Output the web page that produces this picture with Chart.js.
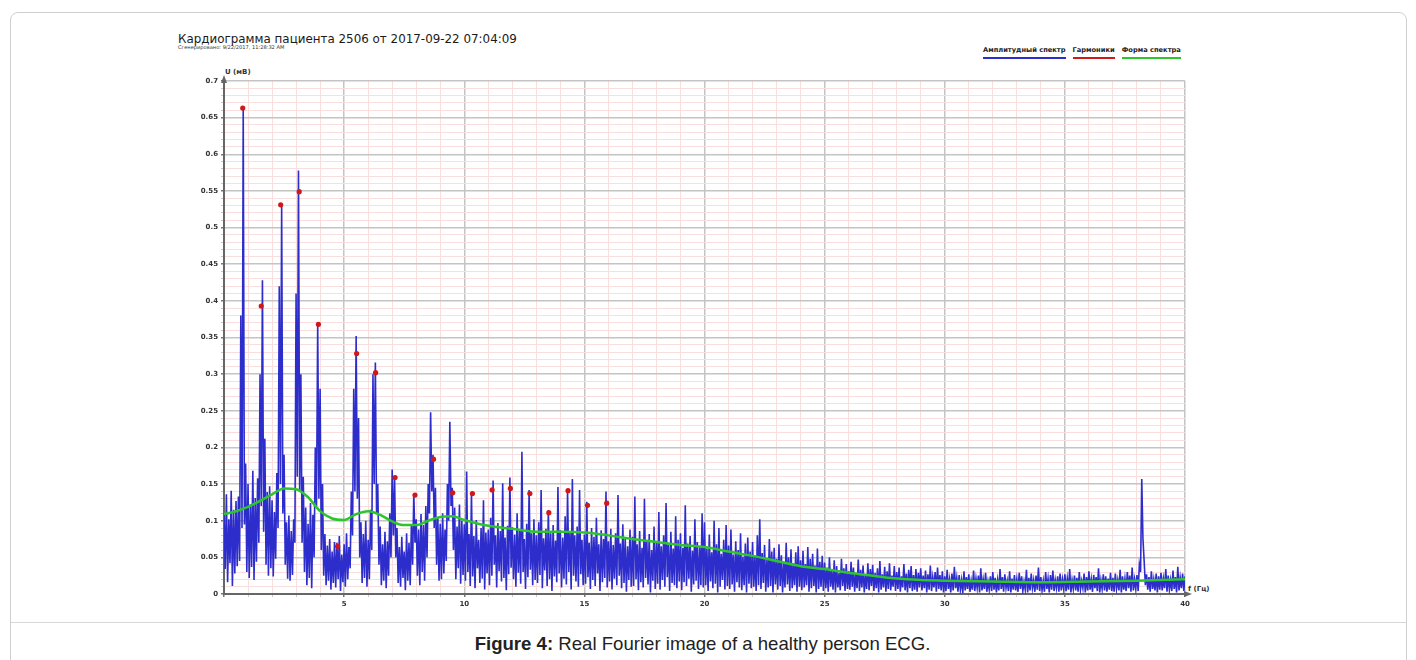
<!DOCTYPE html>
<html>
<head>
<meta charset="utf-8">
<title>Кардиограмма пациента 2506</title>
<script src="https://cdn.jsdelivr.net/npm/chart.js@4.4.1/dist/chart.umd.min.js"></script>
<style>
    html, body { margin: 0; padding: 0; background: #fff; }
    body { width: 1416px; height: 660px; position: relative; overflow: hidden; font-family: 'DejaVu Sans', sans-serif; }
    .frame { position: absolute; left: 10px; top: 12px; width: 1395px; height: 700px; border: 1px solid #cfcfcf; border-radius: 8px; }
    .sep { position: absolute; left: 11px; width: 1395px; top: 622px; border-top: 1px solid #d8d8d8; }
    #chart { position: absolute; left: 0; top: 0; }
    .title { position: absolute; left: 178px; top: 32px; font-size: 11.9px; color: #1a1a1a; white-space: nowrap; }
    .subtitle { position: absolute; left: 178px; top: 44px; font-size: 5.1px; color: #333; white-space: nowrap; }
    .axis-name { position: absolute; font-size: 7px; font-weight: bold; color: #333; white-space: nowrap; line-height: 8px; }
    .legend { position: absolute; top: 46px; left: 983px; display: flex; gap: 7px; }
    .legend-item { font-size: 6.7px; font-weight: bold; color: #222; line-height: 8px; padding-bottom: 3px; border-bottom: 2px solid; white-space: nowrap; }
    .caption { position: absolute; left: 0; width: 1405px; top: 633px; text-align: center; font-family: 'Liberation Sans', Arial, sans-serif; font-size: 18.6px; color: #222; }
</style>
</head>
<body>
<div class="frame"></div>
<div class="sep"></div>
<div class="title">Кардиограмма пациента 2506 от 2017-09-22 07:04:09</div>
<div class="subtitle">Сгенерировано: 9/22/2017, 11:28:32 AM</div>
<div class="legend" id="legend"></div>
<div class="axis-name" style="left:225px; top:68px;">U (мВ)</div>
<div class="axis-name" style="left:1188px; top:585px;">f (Гц)</div>
<canvas id="chart" width="1416" height="620"></canvas>
<div class="caption"><b>Figure 4:</b> Real Fourier image of a healthy person ECG.</div>

<script>
// amplitude spectrum, mV: peaks at f = 0.0, 0.1 ... 40.0 Hz
const specStep = 0.1;
const specHigh = [
    0.108, 0.136, 0.102, 0.141, 0.115, 0.127, 0.133, 0.380, 0.663, 0.178,
    0.150, 0.122, 0.168, 0.131, 0.158, 0.300, 0.428, 0.212, 0.139, 0.147,
    0.128, 0.112, 0.165, 0.420, 0.531, 0.190, 0.098, 0.107, 0.086, 0.102,
    0.410, 0.578, 0.300, 0.160, 0.118, 0.096, 0.124, 0.108, 0.200, 0.370,
    0.280, 0.150, 0.082, 0.066, 0.075, 0.058, 0.071, 0.070, 0.079, 0.054,
    0.068, 0.083, 0.064, 0.140, 0.280, 0.352, 0.240, 0.098, 0.082, 0.100,
    0.074, 0.115, 0.300, 0.316, 0.150, 0.092, 0.068, 0.085, 0.072, 0.110,
    0.170, 0.160, 0.090, 0.064, 0.078, 0.058, 0.083, 0.070, 0.095, 0.137,
    0.102, 0.088, 0.109, 0.094, 0.120, 0.150, 0.248, 0.190, 0.145, 0.104,
    0.096, 0.110, 0.088, 0.150, 0.235, 0.145, 0.118, 0.092, 0.122, 0.100,
    0.095, 0.167, 0.082, 0.138, 0.079, 0.101, 0.074, 0.090, 0.128, 0.084,
    0.088, 0.104, 0.155, 0.080, 0.097, 0.086, 0.151, 0.077, 0.093, 0.159,
    0.091, 0.081, 0.110, 0.086, 0.194, 0.075, 0.096, 0.142, 0.083, 0.102,
    0.080, 0.098, 0.142, 0.076, 0.089, 0.114, 0.083, 0.094, 0.073, 0.146,
    0.087, 0.077, 0.106, 0.141, 0.084, 0.157, 0.080, 0.092, 0.142, 0.074,
    0.081, 0.126, 0.070, 0.090, 0.078, 0.104, 0.068, 0.087, 0.075, 0.140,
    0.072, 0.089, 0.067, 0.083, 0.135, 0.069, 0.095, 0.076, 0.065, 0.088,
    0.078, 0.133, 0.068, 0.086, 0.063, 0.130, 0.072, 0.082, 0.060, 0.092,
    0.070, 0.112, 0.065, 0.080, 0.124, 0.067, 0.085, 0.062, 0.106, 0.074,
    0.083, 0.063, 0.121, 0.069, 0.079, 0.059, 0.102, 0.071, 0.064, 0.110,
    0.098, 0.062, 0.081, 0.057, 0.100, 0.068, 0.090, 0.055, 0.074, 0.094,
    0.066, 0.088, 0.054, 0.072, 0.060, 0.083, 0.051, 0.069, 0.077, 0.058,
    0.071, 0.052, 0.080, 0.102, 0.056, 0.067, 0.049, 0.075, 0.058, 0.063,
    0.048, 0.068, 0.053, 0.044, 0.070, 0.050, 0.061, 0.042, 0.057, 0.065,
    0.046, 0.059, 0.041, 0.064, 0.048, 0.055, 0.039, 0.062, 0.044, 0.052,
    0.043, 0.036, 0.050, 0.032, 0.046, 0.038, 0.029, 0.048, 0.035, 0.041,
    0.031, 0.044, 0.036, 0.028, 0.047, 0.033, 0.039, 0.026, 0.042, 0.034,
    0.040, 0.029, 0.035, 0.045, 0.027, 0.037, 0.031, 0.042, 0.025, 0.038,
    0.030, 0.036, 0.024, 0.041, 0.028, 0.033, 0.038, 0.026, 0.034, 0.029,
    0.035, 0.025, 0.032, 0.027, 0.039, 0.023, 0.030, 0.036, 0.026, 0.031,
    0.024, 0.033, 0.020, 0.028, 0.037, 0.022, 0.026, 0.019, 0.031, 0.023,
    0.027, 0.018, 0.032, 0.021, 0.025, 0.035, 0.020, 0.029, 0.017, 0.024,
    0.030, 0.022, 0.019, 0.034, 0.023, 0.027, 0.018, 0.031, 0.021, 0.026,
    0.020, 0.029, 0.024, 0.017, 0.033, 0.022, 0.028, 0.019, 0.025, 0.036,
    0.023, 0.018, 0.030, 0.021, 0.026, 0.032, 0.019, 0.024, 0.028, 0.020,
    0.027, 0.021, 0.034, 0.019, 0.025, 0.022, 0.030, 0.018, 0.028, 0.023,
    0.031, 0.020, 0.026, 0.023, 0.035, 0.019, 0.027, 0.024, 0.021, 0.029,
    0.022, 0.028, 0.019, 0.033, 0.024, 0.021, 0.030, 0.025, 0.036, 0.020,
    0.026, 0.040, 0.157, 0.045, 0.027, 0.023, 0.031, 0.020, 0.028, 0.024,
    0.029, 0.021, 0.034, 0.025, 0.019, 0.032, 0.023, 0.037, 0.022, 0.028,
    0.024
];
// troughs in between, at f = 0.05, 0.15 ... 39.95 Hz
const specLow = [
    0.034, 0.016, 0.042, 0.011, 0.028, 0.038, 0.045, 0.090, 0.095, 0.030,
    0.022, 0.037, 0.019, 0.044, 0.070, 0.120, 0.085, 0.040, 0.025, 0.035,
    0.024, 0.048, 0.090, 0.150, 0.110, 0.040, 0.021, 0.018, 0.026, 0.070,
    0.160, 0.140, 0.070, 0.030, 0.012, 0.022, 0.008, 0.050, 0.120, 0.130,
    0.060, 0.025, 0.012, 0.018, 0.006, 0.015, 0.009, 0.020, 0.004, 0.016,
    0.010, 0.020, 0.035, 0.080, 0.140, 0.130, 0.050, 0.015, 0.022, 0.010,
    0.020, 0.060, 0.150, 0.110, 0.040, 0.012, 0.018, 0.008, 0.025, 0.050,
    0.080, 0.050, 0.015, 0.010, 0.022, 0.005, 0.018, 0.012, 0.040, 0.070,
    0.025, 0.012, 0.030, 0.018, 0.050, 0.110, 0.140, 0.090, 0.040, 0.018,
    0.020, 0.028, 0.045, 0.100, 0.120, 0.060, 0.020, 0.035, 0.014, 0.026,
    0.018, 0.030, 0.011, 0.024, 0.008, 0.035, 0.015, 0.021, 0.006, 0.028,
    0.012, 0.025, 0.040, 0.009, 0.031, 0.017, 0.022, 0.005, 0.027, 0.036,
    0.020, 0.010, 0.029, 0.014, 0.030, 0.007, 0.023, 0.033, 0.012, 0.019,
    0.015, 0.026, 0.008, 0.032, 0.011, 0.020, 0.004, 0.024, 0.016, 0.028,
    0.009, 0.021, 0.013, 0.030, 0.006, 0.025, 0.017, 0.010, 0.027, 0.012,
    0.014, 0.023, 0.007, 0.019, 0.011, 0.028, 0.004, 0.016, 0.022, 0.009,
    0.017, 0.006, 0.021, 0.012, 0.025, 0.008, 0.015, 0.003, 0.019, 0.010,
    0.011, 0.020, 0.005, 0.016, 0.009, 0.022, 0.013, 0.002, 0.018, 0.007,
    0.014, 0.006, 0.019, 0.010, 0.023, 0.004, 0.015, 0.012, 0.008, 0.017,
    0.005, 0.016, 0.011, 0.021, 0.003, 0.013, 0.018, 0.007, 0.012, 0.009,
    0.012, 0.004, 0.017, 0.008, 0.014, 0.002, 0.010, 0.019, 0.006, 0.011,
    0.007, 0.013, 0.003, 0.016, 0.009, 0.005, 0.012, 0.002, 0.014, 0.008,
    0.010, 0.004, 0.012, 0.007, 0.015, 0.003, 0.009, 0.011, 0.002, 0.013,
    0.006, 0.011, 0.002, 0.009, 0.013, 0.004, 0.008, 0.012, 0.003, 0.010,
    0.005, 0.009, 0.012, 0.003, 0.008, 0.011, 0.002, 0.007, 0.010, 0.004,
    0.008, 0.003, 0.010, 0.006, 0.002, 0.009, 0.005, 0.011, 0.004, 0.007,
    0.006, 0.010, 0.003, 0.008, 0.004, 0.009, 0.002, 0.007, 0.005, 0.011,
    0.004, 0.008, 0.002, 0.006, 0.009, 0.003, 0.007, 0.005, 0.010, 0.004,
    0.007, 0.003, 0.009, 0.005, 0.002, 0.008, 0.004, 0.006, 0.003, 0.009,
    0.005, 0.008, 0.002, 0.006, 0.004, 0.009, 0.003, 0.007, 0.005, 0.002,
    0.004, 0.007, 0.002, 0.005, 0.008, 0.003, 0.006, 0.001, 0.005, 0.007,
    0.003, 0.006, 0.004, 0.008, 0.002, 0.005, 0.007, 0.003, 0.006, 0.004,
    0.006, 0.002, 0.005, 0.007, 0.003, 0.008, 0.004, 0.002, 0.006, 0.005,
    0.003, 0.007, 0.004, 0.006, 0.002, 0.005, 0.008, 0.003, 0.006, 0.004,
    0.005, 0.003, 0.007, 0.002, 0.006, 0.004, 0.008, 0.003, 0.005, 0.007,
    0.004, 0.006, 0.002, 0.007, 0.005, 0.003, 0.006, 0.008, 0.002, 0.005,
    0.006, 0.003, 0.008, 0.004, 0.002, 0.007, 0.005, 0.003, 0.006, 0.004,
    0.003, 0.007, 0.005, 0.002, 0.006, 0.004, 0.008, 0.003, 0.005, 0.007,
    0.004, 0.030, 0.075, 0.012, 0.006, 0.003, 0.007, 0.005, 0.002, 0.006,
    0.005, 0.008, 0.003, 0.006, 0.004, 0.007, 0.002, 0.005, 0.008, 0.004
];

// harmonics (red dots)
const harmFreq = [0.78, 1.55, 2.36, 3.13, 3.93, 4.73, 5.52, 6.31, 7.12, 7.95,
                  8.72, 9.52, 10.34, 11.16, 11.92, 12.73, 13.52, 14.32, 15.13, 15.93];
const harmAmp = [0.663, 0.393, 0.531, 0.549, 0.368, 0.065, 0.328, 0.302, 0.159, 0.135,
                 0.184, 0.138, 0.137, 0.142, 0.144, 0.137, 0.111, 0.141, 0.121, 0.124];

// spectrum shape (green)
const shapeFreq = [0, 0.5, 1, 1.5, 2, 2.5, 3, 3.5, 4, 4.5, 5, 5.5, 6, 6.5, 7, 7.5, 8, 8.5, 9, 9.5,
                   10, 11, 12, 13, 14, 15, 16, 17, 18, 19, 20, 21, 22, 23, 24, 25, 26, 27, 28, 29,
                   30, 32, 34, 36, 38, 40];
const shapeAmp = [0.109, 0.113, 0.119, 0.127, 0.136, 0.144, 0.143, 0.132, 0.113, 0.103,
                  0.101, 0.109, 0.113, 0.108, 0.099, 0.094, 0.094, 0.100, 0.105, 0.106,
                  0.101, 0.093, 0.089, 0.085, 0.085, 0.084, 0.080, 0.075, 0.071, 0.067,
                  0.064, 0.058, 0.052, 0.045, 0.038, 0.034, 0.029, 0.025, 0.021, 0.019,
                  0.018, 0.017, 0.016, 0.017, 0.018, 0.020];

const xLabels = [5, 10, 15, 20, 25, 30, 35, 40];
const yLabels = [0, 0.05, 0.1, 0.15, 0.2, 0.25, 0.3, 0.35, 0.4, 0.45, 0.5, 0.55, 0.6, 0.65, 0.7];

const seriesNames = ['Амплитудный спектр', 'Гармоники', 'Форма спектра'];
const seriesColors = ['#2d2dcc', '#d01818', '#2ec42e'];

Chart.defaults.font.family = "'DejaVu Sans', sans-serif";

const spectrum = [];
specHigh.forEach((v, i) => {
    spectrum.push({x: i * specStep, y: v});
    if (i < specLow.length) spectrum.push({x: i * specStep + specStep / 2, y: specLow[i]});
});
const harmonics = harmFreq.map((f, i) => ({x: f, y: harmAmp[i]}));
const shape = shapeFreq.map((f, i) => ({x: f, y: shapeAmp[i]}));

const isMajorX = v => Math.round(v) % 5 === 0;
const isMajorY = v => Math.round(v * 100) % 5 === 0;

// arrows at the ends of both axes
const axisArrows = {
    id: 'axisArrows',
    afterDraw(chart) {
        const {ctx, chartArea: a} = chart;
        ctx.save();
        ctx.fillStyle = '#666';
        ctx.beginPath();
        ctx.moveTo(a.left, a.top - 6);
        ctx.lineTo(a.left - 3, a.top + 2);
        ctx.lineTo(a.left + 3, a.top + 2);
        ctx.closePath();
        ctx.fill();
        ctx.beginPath();
        ctx.moveTo(a.right + 7, a.bottom);
        ctx.lineTo(a.right - 1, a.bottom - 3);
        ctx.lineTo(a.right - 1, a.bottom + 3);
        ctx.closePath();
        ctx.fill();
        ctx.restore();
    }
};

const chart = new Chart(document.getElementById('chart'), {
    type: 'line',
    data: {
        datasets: [
            {
                label: seriesNames[1], type: 'scatter', data: harmonics, order: 0,
                pointRadius: 2.6, pointBackgroundColor: seriesColors[1], pointBorderWidth: 0
            },
            {
                label: seriesNames[2], data: shape, order: 1,
                borderColor: seriesColors[2], borderWidth: 2.5, pointRadius: 0,
                cubicInterpolationMode: 'monotone'
            },
            {
                label: seriesNames[0], data: spectrum, order: 2,
                borderColor: seriesColors[0], borderWidth: 1.6, pointRadius: 0, tension: 0
            }
        ]
    },
    options: {
        responsive: false,
        animation: false,
        events: [],
        layout: { padding: { left: 180, right: 231, top: 81, bottom: 4 } },
        plugins: { legend: { display: false }, tooltip: { enabled: false } },
        scales: {
            x: {
                type: 'linear', min: 0, max: 40,
                afterFit: s => { s.height = 22; },
                border: { color: '#666', width: 2 },
                grid: {
                    color: c => isMajorX(c.tick.value) ? '#c4c4c4' : '#f9dede',
                    lineWidth: c => isMajorX(c.tick.value) ? 1.5 : 1,
                    tickLength: 3,
                    tickColor: c => isMajorX(c.tick.value) ? '#777' : '#c8c8c8'
                },
                ticks: {
                    stepSize: 1, autoSkip: false, maxRotation: 0, padding: 3,
                    color: '#333', font: { size: 7, weight: 'bold' },
                    callback: v => xLabels.includes(Math.round(v)) && Math.abs(v - Math.round(v)) < 1e-6 ? String(Math.round(v)) : ''
                }
            },
            y: {
                min: 0, max: 0.7,
                afterFit: s => { s.width = 44; },
                border: { color: '#666', width: 2 },
                grid: {
                    color: c => isMajorY(c.tick.value) ? '#c4c4c4' : '#f9dede',
                    lineWidth: c => isMajorY(c.tick.value) ? 1.5 : 1,
                    tickLength: 3,
                    tickColor: c => isMajorY(c.tick.value) ? '#777' : '#c8c8c8'
                },
                ticks: {
                    stepSize: 0.01, autoSkip: false, padding: 3,
                    color: '#333', font: { size: 7, weight: 'bold' },
                    callback: v => {
                        const hit = yLabels.find(l => Math.abs(l - v) < 1e-6);
                        return hit !== undefined ? String(hit) : '';
                    }
                }
            }
        }
    },
    plugins: [axisArrows]
});

// legend: name with a coloured line under it
const legend = document.getElementById('legend');
[2, 0, 1].forEach(i => {
    const ds = chart.data.datasets[i];
    const item = document.createElement('div');
    item.className = 'legend-item';
    item.textContent = ds.label;
    item.style.borderBottomColor = seriesColors[seriesNames.indexOf(ds.label)];
    legend.appendChild(item);
});
</script>
</body>
</html>
